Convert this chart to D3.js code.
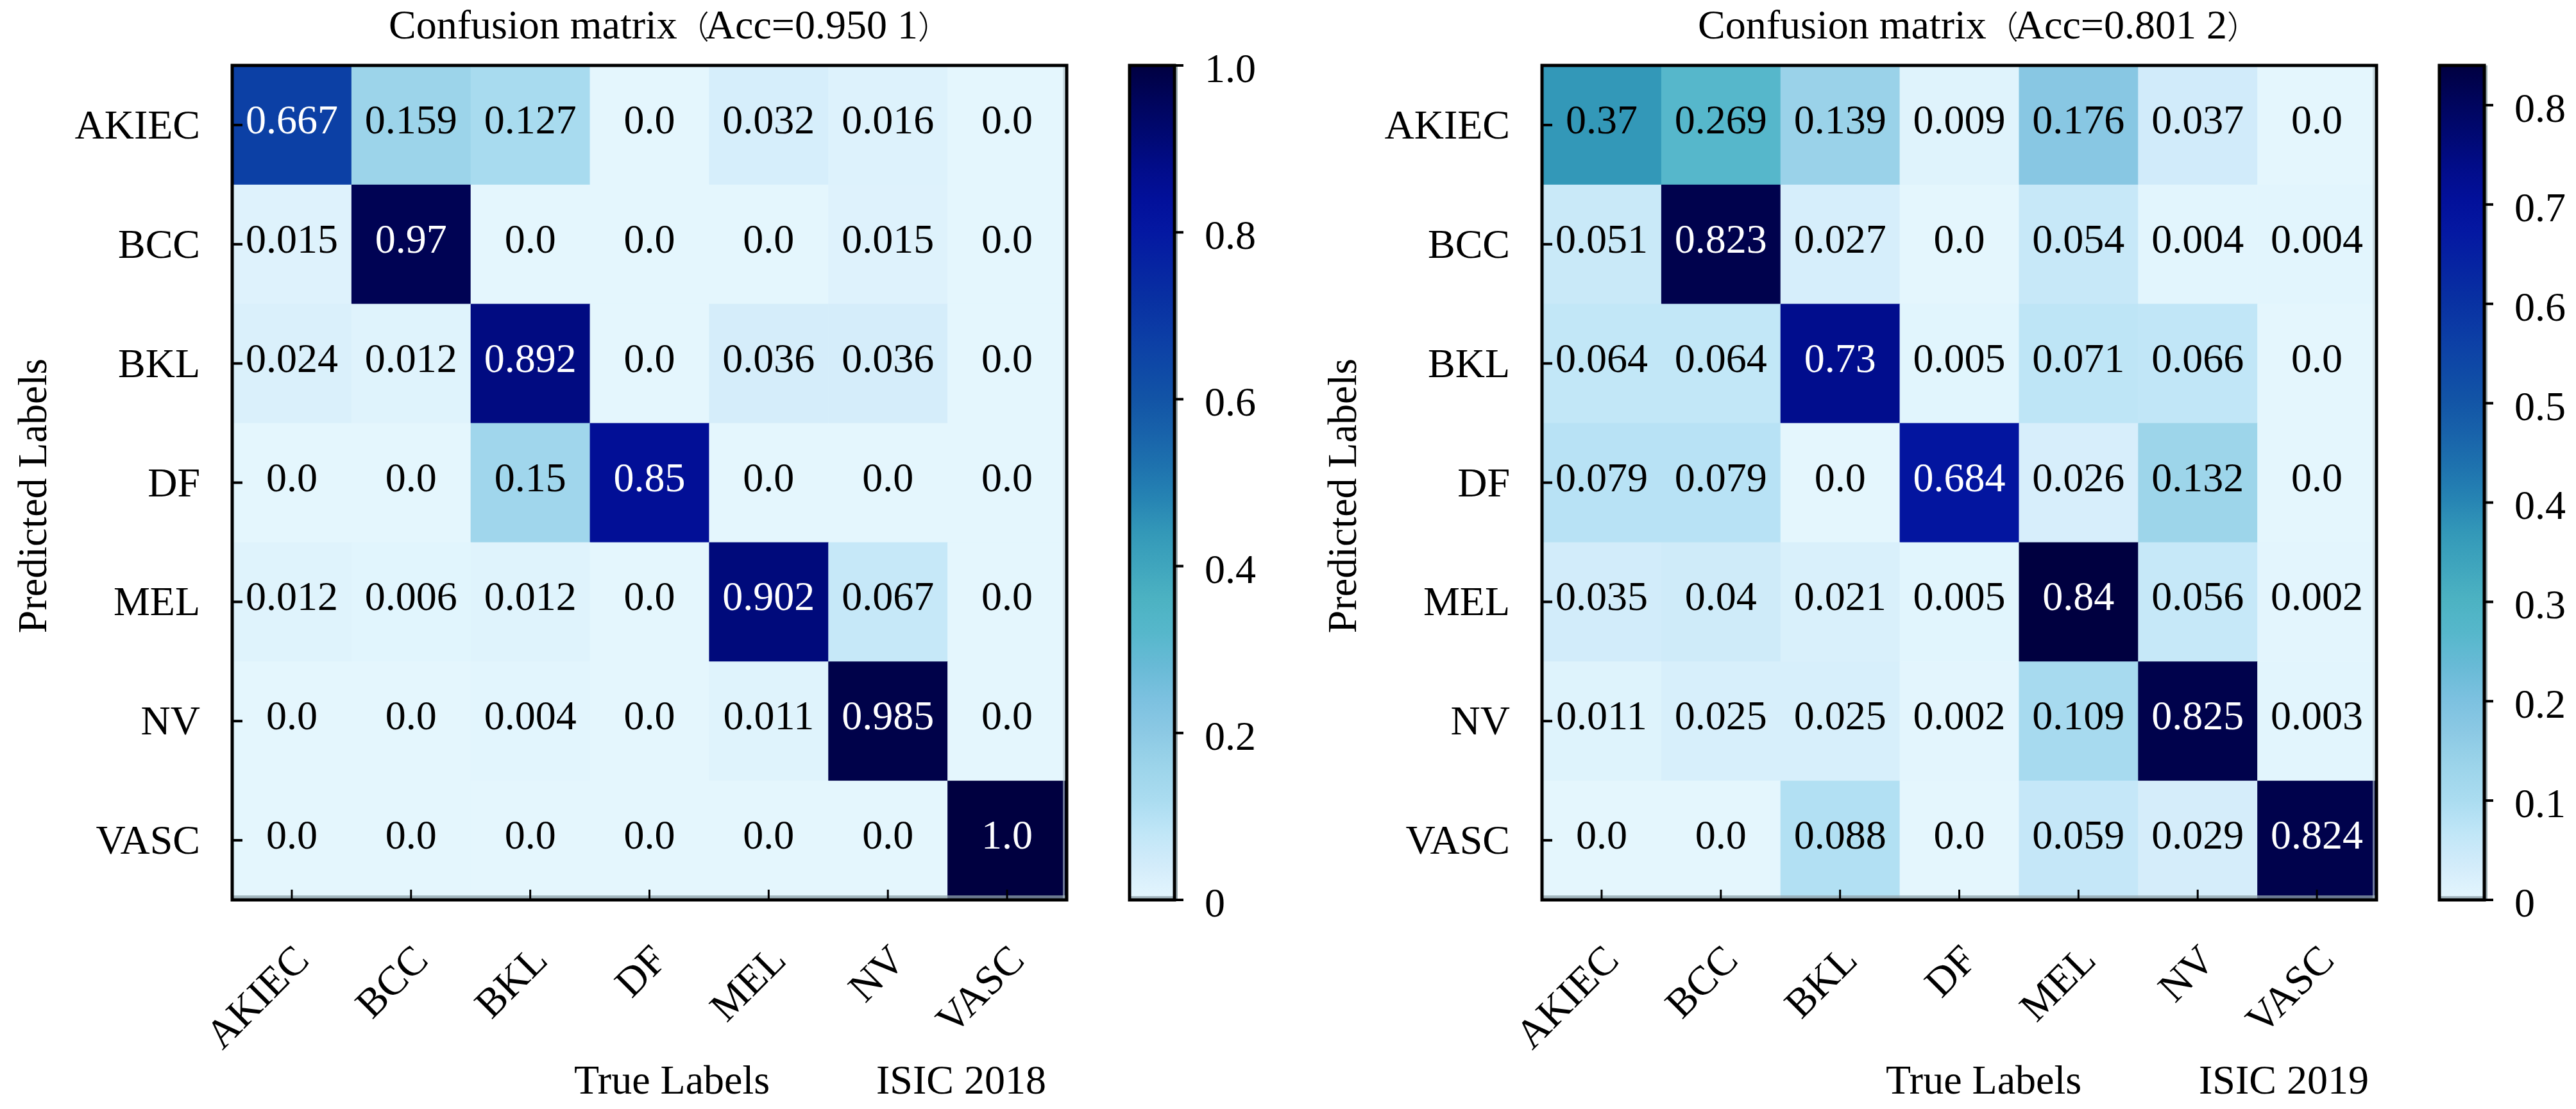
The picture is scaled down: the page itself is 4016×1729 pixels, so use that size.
<!DOCTYPE html>
<html>
<head>
<meta charset="utf-8">
<script src="https://cdn.jsdelivr.net/npm/d3@7"></script>
<style>
  html, body { margin: 0; padding: 0; background: #ffffff; }
  svg { display: block; }
  text { font-family: "Liberation Serif", "Times New Roman", serif; }
</style>
</head>
<body>
<svg id="chart" width="4016" height="1729"></svg>
<script>
// ---------------- data ----------------
const categories = ["AKIEC", "BCC", "BKL", "DF", "MEL", "NV", "VASC"];

// rows = predicted label, columns = true label
const isic2018 = [
  [0.667, 0.159, 0.127, 0.0,  0.032, 0.016, 0.0],
  [0.015, 0.97,  0.0,   0.0,  0.0,   0.015, 0.0],
  [0.024, 0.012, 0.892, 0.0,  0.036, 0.036, 0.0],
  [0.0,   0.0,   0.15,  0.85, 0.0,   0.0,   0.0],
  [0.012, 0.006, 0.012, 0.0,  0.902, 0.067, 0.0],
  [0.0,   0.0,   0.004, 0.0,  0.011, 0.985, 0.0],
  [0.0,   0.0,   0.0,   0.0,  0.0,   0.0,   1.0]
];

const isic2019 = [
  [0.37,  0.269, 0.139, 0.009, 0.176, 0.037, 0.0],
  [0.051, 0.823, 0.027, 0.0,   0.054, 0.004, 0.004],
  [0.064, 0.064, 0.73,  0.005, 0.071, 0.066, 0.0],
  [0.079, 0.079, 0.0,   0.684, 0.026, 0.132, 0.0],
  [0.035, 0.04,  0.021, 0.005, 0.84,  0.056, 0.002],
  [0.011, 0.025, 0.025, 0.002, 0.109, 0.825, 0.003],
  [0.0,   0.0,   0.088, 0.0,   0.059, 0.029, 0.824]
];

const titles = ["Confusion matrix", "Confusion matrix"];
const accLabels = ["Acc=0.950 1", "Acc=0.801 2"];
const datasetLabels = ["ISIC 2018", "ISIC 2019"];
const xAxisTitle = "True Labels";
const yAxisTitle = "Predicted Labels";

const cbTicks2018 = [0, 0.2, 0.4, 0.6, 0.8, 1.0];
const cbTickLabels2018 = ["0", "0.2", "0.4", "0.6", "0.8", "1.0"];
const cbTicks2019 = [0, 0.1, 0.2, 0.3, 0.4, 0.5, 0.6, 0.7, 0.8];
const cbTickLabels2019 = ["0", "0.1", "0.2", "0.3", "0.4", "0.5", "0.6", "0.7", "0.8"];

// ---------------- colour map (light cyan -> teal -> royal blue -> navy) ----------------
const cmapColors = [
  "#e4f6fd", "#d3ecfa", "#c0e6f7", "#aadcf0", "#9cd4ea", "#8cc9e4",
  "#7cc1e0", "#68bad6", "#56b7cb", "#4cb2c2", "#3fa5bd", "#3398b8",
  "#2684b3", "#1e72ae", "#1862aa", "#1254a6", "#0e48a6", "#0b3ca5",
  "#0830a2", "#0624a2", "#0418a2", "#02109a", "#010c88", "#000870",
  "#00045a", "#000040"
];
const cmap = d3.piecewise(d3.interpolateRgb, cmapColors);

// ---------------- layout ----------------
const svg = d3.select("#chart");
const defs = svg.append("defs");
const FS = 64;

const panels = [
  { data: isic2018, x0: 362, cbTicks: cbTicks2018, cbLabels: cbTickLabels2018,
    titleX: 606, trueX: 895, isicX: 1366 },
  { data: isic2019, x0: 2404, cbTicks: cbTicks2019, cbLabels: cbTickLabels2019,
    titleX: 2647, trueX: 2940, isicX: 3428 }
];

const y0 = 102, size = 1301;
const cbGap = 98, cbW = 70;

function fmt(v) {
  return Number.isInteger(Math.round(v * 1000) / 100) ? v.toFixed(1) : String(v);
}

panels.forEach((p, pi) => {
  const g = svg.append("g");
  const vmax = d3.max(p.data.flat());
  const color = d3.scaleSequential(cmap).domain([0, vmax]);

  const x = d3.scaleBand().domain(categories).range([p.x0, p.x0 + size]);
  const y = d3.scaleBand().domain(categories).range([y0, y0 + size]);
  const bw = x.bandwidth();

  // cells
  const cells = [];
  p.data.forEach((row, ri) => row.forEach((v, ci) => cells.push({ r: categories[ri], c: categories[ci], v })));

  g.selectAll("rect.cell").data(cells).join("rect")
    .attr("class", "cell")
    .attr("x", d => x(d.c))
    .attr("y", d => y(d.r))
    .attr("width", bw + 0.6)
    .attr("height", bw + 0.6)
    .attr("fill", d => color(d.v));

  g.selectAll("text.val").data(cells).join("text")
    .attr("class", "val")
    .attr("x", d => x(d.c) + bw / 2)
    .attr("y", d => y(d.r) + bw / 2 + 13)
    .attr("text-anchor", "middle")
    .attr("font-size", FS)
    .attr("fill", d => d.v > vmax / 2 ? "#ffffff" : "#000000")
    .text(d => fmt(d.v));

  // subtle grey shading inside bottom / right edges
  g.append("rect").attr("x", p.x0).attr("y", y0 + size - 7).attr("width", size).attr("height", 5)
    .attr("fill", "#8fa3ab").attr("opacity", 0.75);
  g.append("rect").attr("x", p.x0 + size - 6).attr("y", y0).attr("width", 3).attr("height", size)
    .attr("fill", "#b8cad0").attr("opacity", 0.6);

  // inward ticks (left and bottom)
  g.selectAll("line.yt").data(categories).join("line")
    .attr("x1", p.x0).attr("x2", p.x0 + 16)
    .attr("y1", d => y(d) + bw / 2).attr("y2", d => y(d) + bw / 2)
    .attr("stroke", "#000").attr("stroke-width", 4);
  g.selectAll("line.xt").data(categories).join("line")
    .attr("x1", d => x(d) + bw / 2).attr("x2", d => x(d) + bw / 2)
    .attr("y1", y0 + size).attr("y2", y0 + size - 16)
    .attr("stroke", "#000").attr("stroke-width", 3);

  // frame
  g.append("rect").attr("x", p.x0).attr("y", y0).attr("width", size).attr("height", size)
    .attr("fill", "none").attr("stroke", "#000").attr("stroke-width", 5);

  // y tick labels
  g.selectAll("text.yl").data(categories).join("text")
    .attr("x", p.x0 - 50)
    .attr("y", d => y(d) + bw / 2 + 21)
    .attr("text-anchor", "end")
    .attr("font-size", FS)
    .text(d => d);

  // x tick labels, rotated 45 deg
  g.selectAll("text.xl").data(categories).join("text")
    .attr("text-anchor", "end")
    .attr("font-size", FS)
    .attr("transform", d => `translate(${x(d) + bw / 2 + 30},1500) rotate(-45)`)
    .text(d => d);

  // axis titles
  g.append("text")
    .attr("transform", `translate(${p.x0 - 290},773) rotate(-90)`)
    .attr("text-anchor", "middle")
    .attr("font-size", FS)
    .text(yAxisTitle);
  g.append("text").attr("x", p.trueX).attr("y", 1705).attr("font-size", FS).text(xAxisTitle);
  g.append("text").attr("x", p.isicX).attr("y", 1705).attr("font-size", FS).text(datasetLabels[pi]);

  // title
  const t = g.append("text").attr("x", p.titleX).attr("y", 60).attr("font-size", FS);
  t.append("tspan").text(titles[pi]);
  t.append("tspan").style("font-family", "'Noto Sans CJK SC'").attr("font-size", 50)
    .attr("font-weight", 300).text("（");
  t.append("tspan").attr("dx", -6).text(accLabels[pi]);
  t.append("tspan").style("font-family", "'Noto Sans CJK SC'").attr("font-size", 50)
    .attr("font-weight", 300).text("）");

  // colorbar
  const cbX = p.x0 + size + cbGap;
  const cs = d3.scaleLinear().domain([0, vmax]).range([y0 + size, y0]);
  const gid = "cbgrad" + pi;
  const grad = defs.append("linearGradient").attr("id", gid)
    .attr("x1", 0).attr("y1", 1).attr("x2", 0).attr("y2", 0);
  d3.range(0, 1.0001, 0.02).forEach(s => {
    grad.append("stop").attr("offset", s).attr("stop-color", color(s * vmax));
  });
  g.append("rect").attr("x", cbX).attr("y", y0).attr("width", cbW).attr("height", size)
    .attr("fill", `url(#${gid})`);
  g.append("rect").attr("x", cbX + cbW + 2).attr("y", y0).attr("width", 3).attr("height", size)
    .attr("fill", "#9aabb0");
  g.append("rect").attr("x", cbX).attr("y", y0 + size - 6).attr("width", cbW).attr("height", 4)
    .attr("fill", "#8fa3ab").attr("opacity", 0.7);
  g.append("rect").attr("x", cbX).attr("y", y0).attr("width", cbW).attr("height", size)
    .attr("fill", "none").attr("stroke", "#000").attr("stroke-width", 5);

  g.selectAll("line.ct").data(p.cbTicks).join("line")
    .attr("x1", cbX + cbW).attr("x2", cbX + cbW + 14)
    .attr("y1", d => cs(d)).attr("y2", d => cs(d))
    .attr("stroke", "#000").attr("stroke-width", 4);
  g.selectAll("text.cl").data(p.cbTicks).join("text")
    .attr("x", cbX + cbW + 47)
    .attr("y", d => cs(d) + 26)
    .attr("font-size", FS)
    .text((d, i) => p.cbLabels[i]);
});
</script>
</body>
</html>
